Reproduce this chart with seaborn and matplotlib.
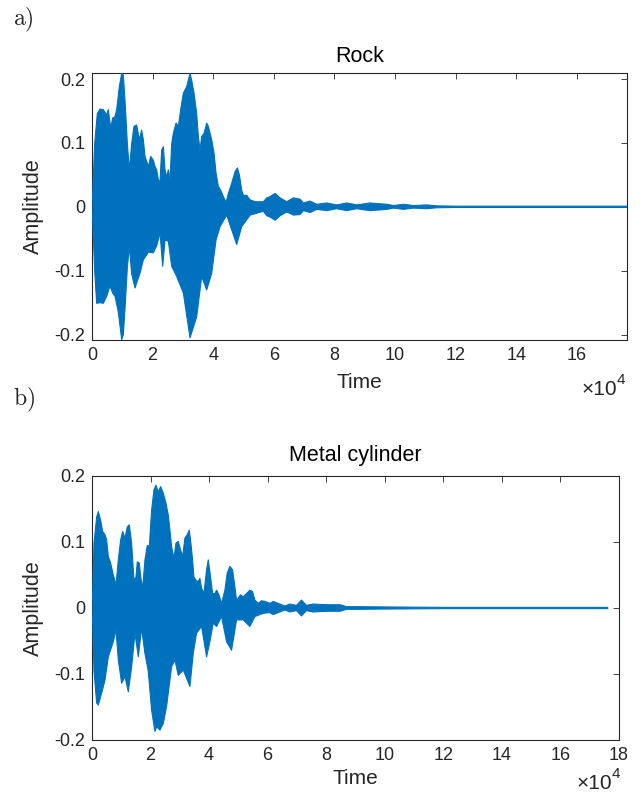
import numpy as np
import pandas as pd
import matplotlib
matplotlib.use("Agg")
import matplotlib.pyplot as plt
import seaborn as sns

# ---------------- data (time in units of 1e4 samples, envelope amplitudes) ----------------
rock_upper_t = [0.0, 0.022, 0.088, 0.176, 0.264, 0.374, 0.484, 0.539, 0.616, 0.682, 0.759, 0.814,
                0.902, 0.979, 1.034, 1.089, 1.166, 1.232, 1.309, 1.386, 1.474, 1.562, 1.639, 1.694,
                1.749, 1.859, 1.936, 2.024, 2.079, 2.134, 2.189, 2.244, 2.299, 2.354, 2.409, 2.464,
                2.519, 2.574, 2.629, 2.684, 2.772, 2.849, 2.926, 3.014, 3.124, 3.234, 3.289, 3.366,
                3.454, 3.509, 3.564, 3.619, 3.696, 3.784, 3.839, 3.949, 4.026, 4.092, 4.169, 4.246,
                4.334, 4.422, 4.499, 4.609, 4.719, 4.796, 4.862, 4.939, 4.994, 5.105, 5.215, 5.380,
                5.545, 5.654, 5.765, 5.875, 6.040, 6.205, 6.425, 6.645, 6.865, 6.975, 7.195, 7.415,
                7.745, 8.075, 8.405, 8.735, 9.175, 9.725, 9.945, 10.275, 10.605, 11.045, 11.375,
                12.0, 17.65]
rock_upper_a = [0.0, 0.021, 0.099, 0.146, 0.153, 0.152, 0.144, 0.152, 0.123, 0.139, 0.141, 0.152,
                0.188, 0.209, 0.206, 0.167, 0.099, 0.058, 0.099, 0.126, 0.128, 0.105, 0.120, 0.105,
                0.079, 0.063, 0.079, 0.073, 0.063, 0.058, 0.042, 0.040, 0.089, 0.094, 0.058, 0.047,
                0.058, 0.042, 0.099, 0.115, 0.131, 0.126, 0.152, 0.178, 0.188, 0.209, 0.198, 0.178,
                0.146, 0.110, 0.089, 0.110, 0.115, 0.131, 0.126, 0.105, 0.084, 0.053, 0.032, 0.026,
                0.016, 0.007, 0.021, 0.037, 0.055, 0.061, 0.050, 0.026, 0.018, 0.018, 0.011, 0.008,
                0.008, 0.008, 0.014, 0.016, 0.021, 0.014, 0.008, 0.014, 0.012, 0.006, 0.009, 0.004,
                0.006, 0.003, 0.006, 0.003, 0.006, 0.004, 0.002, 0.004, 0.002, 0.003, 0.0015,
                0.001, 0.001]
rock_lower_t = [0.0, 0.022, 0.088, 0.154, 0.264, 0.374, 0.484, 0.594, 0.682, 0.759, 0.869, 0.979,
                1.034, 1.089, 1.166, 1.232, 1.309, 1.419, 1.584, 1.694, 1.859, 2.024, 2.134, 2.244,
                2.332, 2.409, 2.519, 2.629, 2.794, 3.014, 3.234, 3.454, 3.619, 3.784, 3.949, 4.092,
                4.224, 4.444, 4.774, 4.939, 5.215, 5.654, 5.765, 5.875, 6.040, 6.205, 6.425, 6.645,
                6.865, 6.975, 7.195, 7.415, 7.745, 8.075, 8.405, 8.735, 9.175, 9.725, 9.945, 10.275,
                10.605, 11.045, 11.375, 12.0, 17.65]
rock_lower_a = [0.0, -0.020, -0.100, -0.151, -0.150, -0.151, -0.140, -0.124, -0.135, -0.140, -0.165,
                -0.208, -0.200, -0.160, -0.095, -0.062, -0.105, -0.127, -0.104, -0.083, -0.071,
                -0.072, -0.061, -0.041, -0.093, -0.052, -0.054, -0.093, -0.109, -0.135, -0.205,
                -0.172, -0.109, -0.130, -0.104, -0.052, -0.031, -0.013, -0.059, -0.031, -0.013,
                -0.007, -0.014, -0.016, -0.021, -0.014, -0.008, -0.013, -0.012, -0.006, -0.009,
                -0.004, -0.006, -0.003, -0.006, -0.003, -0.006, -0.004, -0.002, -0.004, -0.002,
                -0.003, -0.0015, -0.001, -0.001]

metal_upper_t = [0.0, 0.023, 0.068, 0.159, 0.216, 0.296, 0.364, 0.444, 0.501, 0.557, 0.637, 0.728,
                 0.819, 0.899, 0.978, 1.047, 1.126, 1.206, 1.274, 1.354, 1.433, 1.502, 1.547, 1.615,
                 1.672, 1.729, 1.809, 1.889, 1.957, 2.036, 2.116, 2.184, 2.264, 2.344, 2.435, 2.526,
                 2.605, 2.662, 2.719, 2.799, 2.867, 2.947, 3.026, 3.094, 3.174, 3.254, 3.322, 3.379,
                 3.436, 3.481, 3.549, 3.629, 3.686, 3.743, 3.823, 3.914, 3.970, 4.027, 4.119, 4.198,
                 4.255, 4.335, 4.425, 4.539, 4.619, 4.710, 4.801, 4.881, 4.937, 4.994, 5.074, 5.165,
                 5.279, 5.392, 5.483, 5.563, 5.677, 5.791, 5.904, 6.075, 6.189, 6.416, 6.587, 6.758,
                 6.985, 7.156, 7.326, 7.554, 8.009, 8.464, 8.692, 9.147, 10.284, 11.991, 17.62]
metal_upper_a = [0.0, 0.022, 0.098, 0.138, 0.146, 0.133, 0.116, 0.111, 0.103, 0.078, 0.068, 0.050,
                 0.035, 0.073, 0.103, 0.116, 0.106, 0.123, 0.126, 0.098, 0.042, 0.047, 0.070, 0.068,
                 0.045, 0.030, 0.073, 0.095, 0.093, 0.148, 0.179, 0.186, 0.176, 0.184, 0.174, 0.159,
                 0.141, 0.118, 0.093, 0.075, 0.098, 0.101, 0.088, 0.078, 0.106, 0.111, 0.118, 0.098,
                 0.073, 0.047, 0.042, 0.040, 0.045, 0.030, 0.022, 0.058, 0.073, 0.055, 0.022, 0.022,
                 0.027, 0.020, 0.007, 0.027, 0.053, 0.063, 0.058, 0.032, 0.012, 0.015, 0.020, 0.017,
                 0.022, 0.027, 0.025, 0.012, 0.007, 0.011, 0.010, 0.007, 0.010, 0.006, 0.003, 0.006,
                 0.004, 0.012, 0.004, 0.006, 0.005, 0.005, 0.002, 0.002, 0.0015, 0.001, 0.001]
metal_lower_t = [0.0, 0.023, 0.068, 0.159, 0.216, 0.330, 0.444, 0.557, 0.728, 0.819, 0.899, 1.013,
                 1.126, 1.240, 1.354, 1.468, 1.581, 1.695, 1.809, 1.923, 2.036, 2.150, 2.207, 2.321,
                 2.435, 2.548, 2.719, 2.833, 2.947, 3.117, 3.254, 3.345, 3.458, 3.572, 3.743, 3.914,
                 4.027, 4.141, 4.255, 4.425, 4.596, 4.767, 4.937, 5.165, 5.392, 5.563, 5.848, 6.075,
                 6.189, 6.416, 6.587, 6.758, 6.985, 7.156, 7.326, 7.554, 8.009, 8.464, 8.692, 9.147,
                 10.284, 11.991, 17.62]
metal_lower_a = [0.0, -0.022, -0.095, -0.144, -0.147, -0.129, -0.109, -0.074, -0.051, -0.033, -0.079,
                 -0.114, -0.104, -0.127, -0.089, -0.038, -0.074, -0.031, -0.069, -0.096, -0.155,
                 -0.187, -0.180, -0.185, -0.175, -0.149, -0.089, -0.079, -0.102, -0.094, -0.109,
                 -0.119, -0.069, -0.038, -0.028, -0.074, -0.051, -0.023, -0.028, -0.013, -0.051,
                 -0.064, -0.018, -0.018, -0.028, -0.013, -0.008, -0.007, -0.010, -0.006, -0.003,
                 -0.006, -0.004, -0.012, -0.004, -0.006, -0.005, -0.005, -0.002, -0.002, -0.0015,
                 -0.001, -0.001]

titles = ["Rock", "Metal cylinder"]
panel_tags = ["a)", "b)"]
rock_xticks = [0, 2, 4, 6, 8, 10, 12, 14, 16]
metal_xticks = [0, 2, 4, 6, 8, 10, 12, 14, 16, 18]
rock_yticks = [-0.2, -0.1, 0, 0.1, 0.2]
metal_yticks = [-0.2, -0.1, 0, 0.1, 0.2]

# ---------------- style ----------------
sns.set_style("white")
plt.rcParams["font.family"] = ["Liberation Sans", "DejaVu Sans"]
plt.rcParams["mathtext.fontset"] = "cm"
BLUE = "#0072BD"
DARK = "#262626"

fig = plt.figure(figsize=(6.43, 7.94), dpi=100)
W, H = 643, 794


def add_axes_px(left, top, right, bottom):
    return fig.add_axes([left / W, 1 - bottom / H, (right - left) / W, (bottom - top) / H])


ax1 = add_axes_px(92, 73, 627, 340)
ax2 = add_axes_px(92, 476, 619, 740)

panels = [
    (ax1, rock_upper_t, rock_upper_a, rock_lower_t, rock_lower_a, (0, 17.65), (-0.2084, 0.2094),
     rock_xticks, rock_yticks, 0, 8),
    (ax2, metal_upper_t, metal_upper_a, metal_lower_t, metal_lower_a, (0, 18), (-0.2, 0.2),
     metal_xticks, metal_yticks, 1, 11),
]

for ax, ut, ua, lt, la, xl, yl, xt, yt, idx, tpad in panels:
    up = pd.DataFrame({"t": ut, "a": ua})
    lo = pd.DataFrame({"t": lt, "a": la})
    ax.fill(np.r_[up["t"].values, lo["t"].values[::-1]],
            np.r_[up["a"].values, lo["a"].values[::-1]],
            color=BLUE, lw=0, zorder=2)
    sns.lineplot(data=up, x="t", y="a", ax=ax, color=BLUE, lw=0.8, sort=False, zorder=3)
    sns.lineplot(data=lo, x="t", y="a", ax=ax, color=BLUE, lw=0.8, sort=False, zorder=3)

    ax.set_xlim(*xl)
    ax.set_ylim(*yl)
    ax.set_xticks(xt)
    ax.set_xticklabels([str(v) for v in xt])
    ax.set_yticks(yt)
    ax.set_yticklabels(["-0.2", "-0.1", "0", "0.1", "0.2"])
    ax.tick_params(direction="in", length=4.5, width=0.6, colors=DARK, labelsize=13,
                   top=True, right=True, labeltop=False, labelright=False, pad=5)
    for s in ax.spines.values():
        s.set_visible(True)
        s.set_color(DARK)
        s.set_linewidth(0.8)

    ax.set_title(titles[idx], fontsize=15.5, color="black", pad=tpad)
    ax.set_xlabel("Time", fontsize=15, color=DARK)
    ax.set_ylabel("Amplitude", fontsize=15.5, color=DARK)

ax1.xaxis.set_label_coords(0.5, (340 - 382) / 267)
ax1.xaxis.label.set_va("center")
ax2.xaxis.set_label_coords(0.5, (740 - 778) / 264)
ax2.xaxis.label.set_va("center")
ax1.yaxis.set_label_coords((33 - 92) / 535, 0.5)
ax1.yaxis.label.set_va("center")
ax2.yaxis.set_label_coords((33 - 92) / 527, 0.5)
ax2.yaxis.label.set_va("center")


def multiplier(x_right_px, base_px):
    # "×10" then superscript "4", placed in figure pixel coordinates
    fig.text((x_right_px - 11) / W, 1 - base_px / H, "\u00d710", fontsize=15, color=DARK,
             ha="right", va="baseline")
    fig.text((x_right_px - 11) / W, 1 - (base_px - 11) / H, "4", fontsize=11, color=DARK,
             ha="left", va="baseline")


multiplier(628, 395)
multiplier(623, 789)

fig.text(13 / W, 1 - 20 / H, r"$\mathrm{" + panel_tags[0] + "}$", fontsize=17, ha="left", va="center")
fig.text(13 / W, 1 - 400 / H, r"$\mathrm{" + panel_tags[1] + "}$", fontsize=17, ha="left", va="center")

fig.savefig("out.png", dpi=100, facecolor="white")
